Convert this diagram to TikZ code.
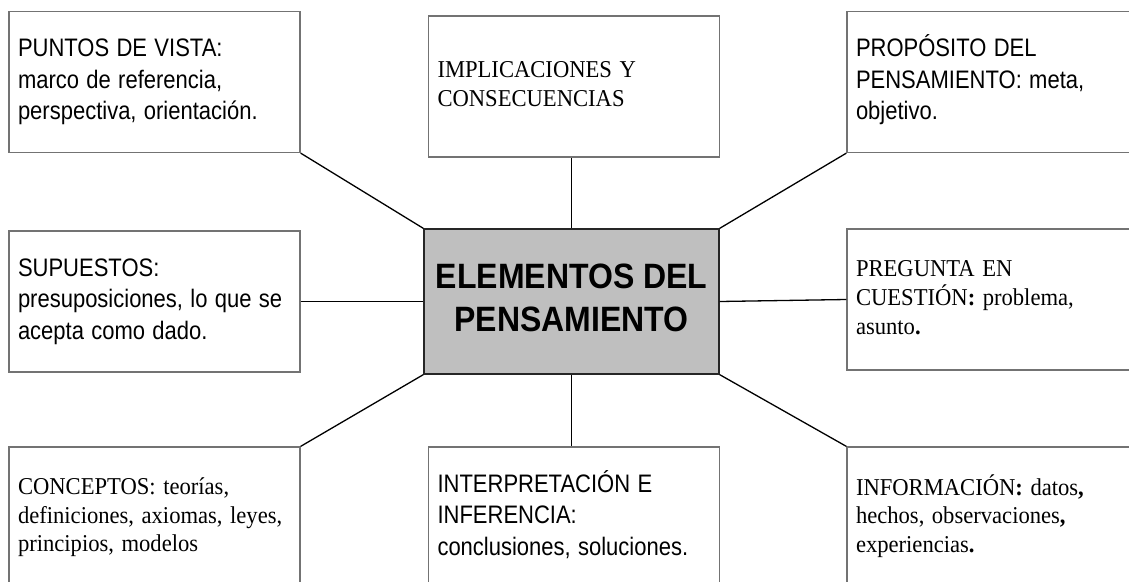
\documentclass[tikz,border=0pt]{standalone}
\usepackage{fontspec}
\setmainfont{Liberation Serif}
\newfontfamily\arialfont{Liberation Sans}
\usepackage{graphicx}
\usepackage{tikz}
\usetikzlibrary{calc}

% texto un poco mas alto que ancho, como en el original
\newcommand{\alto}[3][l]{\scalebox{1}[#2]{\begin{tabular}{@{}#1@{}}#3\end{tabular}}}

\tikzset{
  caja/.style={draw=black!55,line width=1.2pt,minimum width=291pt,minimum height=141pt,
    text width=273pt,inner xsep=9pt,align=left},
  cajasans/.style={caja,font=\arialfont\fontsize{22}{27.4}\selectfont},
  cajaserif/.style={caja,font=\fontsize{22.6}{26.6}\selectfont},
  centro/.style={draw=black!85,line width=1.2pt,fill=gray!50,minimum width=295pt,minimum height=145pt,
    align=center,font=\arialfont\bfseries\fontsize{32}{39}\selectfont},
  enlace/.style={draw=black,line width=1.3pt}
}

\begin{document}
\begin{tikzpicture}[x=1pt,y=-1pt]
\useasboundingbox (0,0) rectangle (1129,581);
\clip (0,0) rectangle (1129,581);
%\draw[very thin,color=gray,step=50] (0,0) grid (1129,581);
\node[centro] (elem) at (571.5,301.5) {\alto[c]{1.1}{ELEMENTOS DEL\\PENSAMIENTO}};

\node[cajasans] (puntos) at (154.5,82) {\alto{1.15}{PUNTOS DE VISTA:\\marco de referencia,\\perspectiva, orientación.}};
\node[cajaserif] (impl) at (574,86.5) {\alto{1.07}{IMPLICACIONES Y\\CONSECUENCIAS}};
\node[cajasans] (prop) at (992.5,82) {\alto{1.15}{PROPÓSITO DEL\\PENSAMIENTO: meta,\\objetivo.}};

\node[cajasans] (supu) at (154.5,301.5) {\alto{1.15}{SUPUESTOS:\\presuposiciones, lo que se\\acepta como dado.}};
\node[cajaserif] (preg) at (992.5,299.5) {\alto{1.07}{PREGUNTA EN\\CUESTIÓN\textbf{:} problema,\\asunto\textbf{.}}};

\node[cajaserif] (conc) at (154.5,517.5) {\alto{1.07}{CONCEPTOS: teorías,\\definiciones, axiomas, leyes,\\principios, modelos}};
\node[cajasans] (inter) at (574,517.5) {\alto{1.15}{INTERPRETACIÓN E\\INFERENCIA:\\conclusiones, soluciones.}};
\node[cajaserif] (info) at (992.5,517.5) {\alto{1.07}{INFORMACIÓN\textbf{:} datos\textbf{,}\\hechos, observaciones\textbf{,}\\experiencias\textbf{.}}};

\draw[enlace] (puntos.south east) -- (elem.north west);
\draw[enlace] (elem.north) -- (elem.north |- impl.south);
\draw[enlace] (prop.south west) -- (elem.north east);
\draw[enlace] (supu.east) -- (elem.west);
\draw[enlace] (elem.east) -- (preg.west);
\draw[enlace] (elem.south west) -- (conc.north east);
\draw[enlace] (elem.south) -- (elem.south |- inter.north);
\draw[enlace] (elem.south east) -- (info.north west);
\end{tikzpicture}
\end{document}
